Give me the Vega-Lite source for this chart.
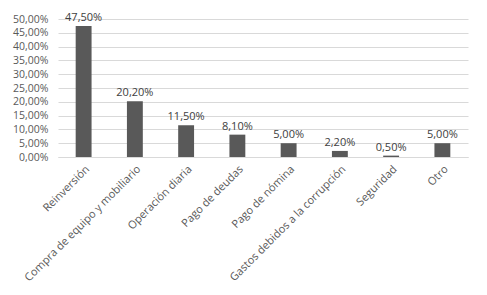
{
  "$schema": "https://vega.github.io/schema/vega-lite/v6.json",
  "autosize": {"type": "none"},
  "width": 410,
  "height": 138,
  "padding": {"left": 58, "top": 19, "right": 19, "bottom": 138},
  "background": "white",
  "config": {
    "locale": {"number": {"decimal": ",", "thousands": ".", "grouping": [3], "currency": ["", " €"]}},
    "view": {"stroke": null},
    "font": "Open Sans",
    "axis": {"labelFont": "Open Sans", "labelColor": "#595959", "labelFontSize": 10.5}
  },
  "data": {
    "values": [
      {"categoria": "Reinversión", "valor": 0.475},
      {"categoria": "Compra de equipo y mobiliario", "valor": 0.202},
      {"categoria": "Operación diaria", "valor": 0.115},
      {"categoria": "Pago de deudas", "valor": 0.081},
      {"categoria": "Pago de nómina", "valor": 0.05},
      {"categoria": "Gastos debidos a la corrupción", "valor": 0.022},
      {"categoria": "Seguridad", "valor": 0.005},
      {"categoria": "Otro", "valor": 0.05}
    ]
  },
  "encoding": {
    "x": {
      "field": "categoria", "type": "nominal", "sort": null,
      "scale": {"paddingInner": 0.69, "paddingOuter": 0.345},
      "axis": {"title": null, "labelAngle": -45, "labelAlign": "right", "labelBaseline": "top", "ticks": false, "domainColor": "#d9d9d9", "labelPadding": 6, "labelLimit": 300, "labelFontSize": 11}
    },
    "y": {
      "field": "valor", "type": "quantitative",
      "scale": {"domain": [0, 0.5], "nice": false},
      "axis": {"title": null, "format": ".2%", "values": [0, 0.05, 0.1, 0.15, 0.2, 0.25, 0.3, 0.35, 0.4, 0.45, 0.5], "domain": false, "ticks": false, "gridColor": "#d9d9d9", "labelPadding": 10}
    }
  },
  "layer": [
    {"mark": {"type": "bar", "color": "#595959"}},
    {"mark": {"type": "text", "dy": -8, "color": "#404040", "fontSize": 11, "font": "Open Sans"},
     "encoding": {"text": {"field": "valor", "type": "quantitative", "format": ".2%"}}}
  ]
}
